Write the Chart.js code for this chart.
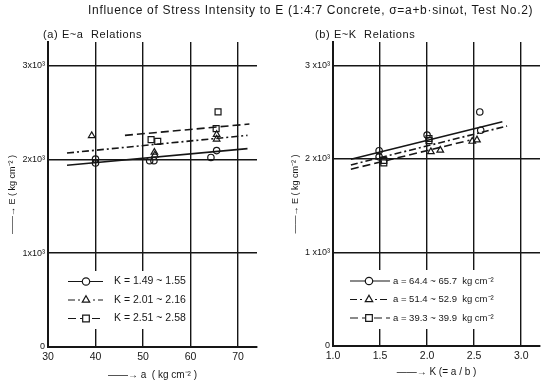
<!DOCTYPE html>
<html>
<head>
<meta charset="utf-8">
<script src="https://cdn.jsdelivr.net/npm/chart.js@4.4.1/dist/chart.umd.min.js"></script>
<style>
    body { margin: 0; background: #fff; }
    #wrap {
        position: relative; width: 550px; height: 383px; overflow: hidden;
        font-family: "Liberation Sans", Arial, sans-serif; color: #161616;
    }
    #wrap canvas { position: absolute; top: 0; }
    .heading { position: absolute; left: 88px; top: 3px; font-size: 12px; letter-spacing: 0.7px; white-space: nowrap; z-index: 2; }
    .panel { position: absolute; top: 28px; font-size: 11px; letter-spacing: 0.6px; white-space: nowrap; z-index: 2; }
</style>
</head>
<body>
<div id="wrap">
    <div class="heading">Influence of Stress Intensity to E (1:4:7 Concrete, σ=a+b·sinωt, Test No.2)</div>
    <div class="panel" style="left:43px">(a) E~a&nbsp;&nbsp;Relations</div>
    <div class="panel" style="left:315px">(b) E~K&nbsp;&nbsp;Relations</div>
    <canvas id="chart-a" width="275" height="383" style="left:0"></canvas>
    <canvas id="chart-k" width="275" height="383" style="left:275px"></canvas>
</div>
<script>
const INK = '#161616';

// (a) E vs a  -- measured points, kg/cm2
const aCircleA = [40.0, 40.0, 51.4, 52.3, 64.3, 65.5];
const aCircleE = [2003, 1960, 1985, 1985, 2020, 2093];
const aTriA = [39.2, 52.4, 52.5, 65.5, 65.5];
const aTriE = [2252, 2075, 2045, 2265, 2215];
const aSquareA = [51.7, 53.1, 65.4, 65.8];
const aSquareE = [2210, 2191, 2327, 2505];

// (a) fitted lines, end points
const aFitCircleA = [34.0, 72.0];
const aFitCircleE = [1936, 2114];
const aFitTriA = [34.0, 72.0];
const aFitTriE = [2067, 2255];
const aFitSquareA = [46.2, 72.4];
const aFitSquareE = [2255, 2376];

// (b) E vs K
const kCircleK = [1.49, 1.49, 2.00, 2.56, 2.57];
const kCircleE = [2088, 2022, 2255, 2502, 2307];
const kTriK = [2.04, 2.14, 2.48, 2.53];
const kTriE = [2077, 2093, 2188, 2203];
const kSquareK = [1.54, 1.54, 2.02, 2.02];
const kSquareE = [1985, 1958, 2218, 2195];

// (b) fitted lines, end points
const kFitCircleK = [1.19, 2.80];
const kFitCircleE = [1996, 2398];
const kFitTriK = [1.19, 2.85];
const kFitTriE = [1936, 2352];
const kFitSquareK = [1.19, 2.45];
const kFitSquareE = [1890, 2200];

// axes
const aTicks = [30, 40, 50, 60, 70];
const aTickLabels = ['30', '40', '50', '60', '70'];
const kTicks = [1.0, 1.5, 2.0, 2.5, 3.0];
const kTickLabels = ['1.0', '1.5', '2.0', '2.5', '3.0'];
const eTicks = [0, 1000, 2000, 3000];
const eTickLabelsA = ['0', '1x10³', '2x10³', '3x10³'];
const eTickLabelsK = ['0', '1 x10³', '2 x10³', '3 x10³'];

const aLegend = ['K = 1.49 ~ 1.55', 'K = 2.01 ~ 2.16', 'K = 2.51 ~ 2.58'];
const kLegend = ['a = 64.4 ~ 65.7  kg cm⁻²', 'a = 51.4 ~ 52.9  kg cm⁻²', 'a = 39.3 ~ 39.9  kg cm⁻²'];

const SOLID = [];
const DASH_DOT = [7, 3, 2, 3];
const DASHED = [8, 4];

const MARKS = [
    { pointStyle: 'circle', radius: 3.2, dash: SOLID },
    { pointStyle: 'triangle', radius: 3.8, dash: DASH_DOT },
    { pointStyle: 'rect', radius: 4.2, dash: DASHED }
];

const FONT = '"Liberation Sans", Arial, sans-serif';

function pts(xs, ys) {
    return xs.map((x, i) => ({ x, y: ys[i] }));
}

function markerSet(xs, ys, mark) {
    return {
        type: 'scatter',
        data: pts(xs, ys),
        pointStyle: mark.pointStyle,
        pointRadius: mark.radius,
        pointBorderWidth: 1.2,
        pointBorderColor: INK,
        pointBackgroundColor: 'rgba(0,0,0,0)',
        showLine: false
    };
}

function fitLine(xs, ys, mark) {
    return {
        type: 'line',
        data: pts(xs, ys),
        borderColor: INK,
        borderWidth: 1.6,
        borderDash: mark.dash,
        pointRadius: 0,
        fill: false
    };
}

// legend box drawn inside the plot, covering the grid behind it
const keyBox = {
    id: 'keyBox',
    afterDraw(chart, args, o) {
        if (!o || !o.items) return;
        const ctx = chart.ctx;
        ctx.save();
        ctx.fillStyle = '#fff';
        ctx.fillRect(o.x, o.y, o.w, o.h);
        o.items.forEach((label, i) => {
            const y = o.rows[i];
            const mark = MARKS[i];
            ctx.strokeStyle = INK;
            ctx.lineWidth = 1.2;
            ctx.setLineDash(mark.dash);
            ctx.beginPath();
            ctx.moveTo(o.lineFrom, y);
            ctx.lineTo(o.lineTo, y);
            ctx.stroke();
            ctx.setLineDash([]);
            ctx.fillStyle = '#fff';
            ctx.fillRect(o.markX - 4, y - 4, 8, 8);
            Chart.helpers.drawPoint(ctx, {
                pointStyle: mark.pointStyle, radius: mark.radius + 0.5, borderWidth: 1.1
            }, o.markX, y);
            ctx.fillStyle = INK;
            ctx.font = o.font;
            ctx.textBaseline = 'middle';
            ctx.fillText(label, o.textX, y);
        });
        ctx.restore();
    }
};

function buildScales(c) {
    return {
        x: {
            type: 'linear',
            min: c.xMin,
            max: c.xMax,
            afterBuildTicks: s => { s.ticks = c.xTicks.map(v => ({ value: v })); },
            afterFit: s => { s.height = c.xHeight; },
            grid: {
                color: ctx => (ctx.tick && ctx.tick.value === c.xMin) ? 'rgba(0,0,0,0)' : INK,
                lineWidth: 1.4,
                drawTicks: false
            },
            border: { color: INK, width: 2 },
            ticks: {
                color: INK, autoSkip: false, maxRotation: 0, padding: 4,
                font: { size: 10.5, family: FONT },
                callback: (v, i) => c.xLabels[i]
            },
            title: {
                display: true, text: c.xTitle, color: INK,
                font: { size: 10, family: FONT },
                padding: { top: 0, bottom: c.xTitlePad }
            }
        },
        y: {
            type: 'linear',
            min: 0,
            max: 3250,
            afterBuildTicks: s => { s.ticks = eTicks.map(v => ({ value: v })); },
            afterFit: s => { s.width = c.yWidth; },
            grid: {
                color: ctx => (ctx.tick && ctx.tick.value === 0) ? 'rgba(0,0,0,0)' : INK,
                lineWidth: 1.4,
                drawTicks: false
            },
            border: { color: INK, width: 2 },
            ticks: {
                color: INK, autoSkip: false, padding: 3,
                font: { size: 9, family: FONT },
                callback: (v, i) => c.yLabels[i]
            },
            title: {
                display: true, text: '——→ E ( kg cm⁻² )', color: INK,
                font: { size: 9, family: FONT },
                padding: { top: 2, bottom: 0 }
            }
        }
    };
}

function makeChart(id, c) {
    return new Chart(document.getElementById(id), {
        type: 'scatter',
        data: { datasets: c.datasets },
        options: {
            responsive: false,
            animation: false,
            layout: { padding: c.padding },
            plugins: {
                legend: { display: false },
                tooltip: { enabled: false },
                keyBox: c.key
            },
            scales: buildScales(c)
        },
        plugins: [keyBox]
    });
}

makeChart('chart-a', {
    xMin: 30, xMax: 74, xTicks: aTicks, xLabels: aTickLabels, yLabels: eTickLabelsA,
    xHeight: 36, yWidth: 43, xTitlePad: 2,
    xTitle: '——→ a  ( kg cm⁻² )',
    padding: { top: 42, left: 5, right: 18, bottom: 0 },
    datasets: [
        fitLine(aFitCircleA, aFitCircleE, MARKS[0]),
        fitLine(aFitTriA, aFitTriE, MARKS[1]),
        fitLine(aFitSquareA, aFitSquareE, MARKS[2]),
        markerSet(aCircleA, aCircleE, MARKS[0]),
        markerSet(aTriA, aTriE, MARKS[1]),
        markerSet(aSquareA, aSquareE, MARKS[2])
    ],
    key: {
        items: aLegend, x: 60, y: 271, w: 128, h: 58, rows: [281.5, 300, 318.5],
        lineFrom: 68, lineTo: 103, markX: 86, textX: 114,
        font: '10.5px "Liberation Sans", Arial, sans-serif'
    }
});

makeChart('chart-k', {
    xMin: 1.0, xMax: 3.2, xTicks: kTicks, xLabels: kTickLabels, yLabels: eTickLabelsK,
    xHeight: 37, yWidth: 45, xTitlePad: 5,
    xTitle: '——→ K (= a / b )',
    padding: { top: 42, left: 13, right: 10, bottom: 0 },
    datasets: [
        fitLine(kFitCircleK, kFitCircleE, MARKS[0]),
        fitLine(kFitTriK, kFitTriE, MARKS[1]),
        fitLine(kFitSquareK, kFitSquareE, MARKS[2]),
        markerSet(kCircleK, kCircleE, MARKS[0]),
        markerSet(kTriK, kTriE, MARKS[1]),
        markerSet(kSquareK, kSquareE, MARKS[2])
    ],
    key: {
        items: kLegend, x: 67, y: 270, w: 164, h: 59, rows: [281, 299.5, 318],
        lineFrom: 75, lineTo: 115, markX: 94, textX: 118,
        font: '9.5px "Liberation Sans", Arial, sans-serif'
    }
});
</script>
</body>
</html>
